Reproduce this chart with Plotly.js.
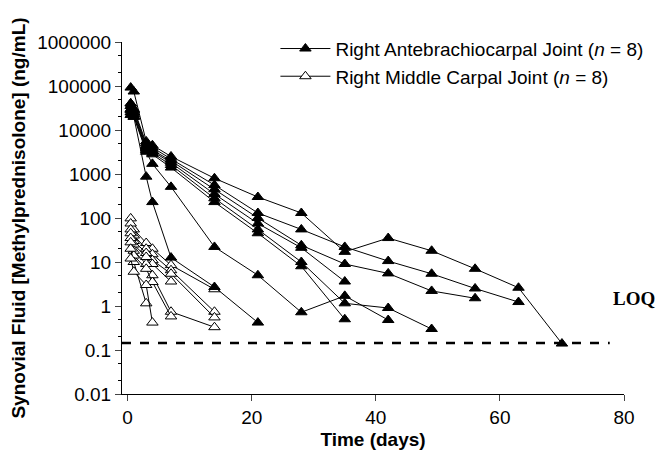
<!DOCTYPE html>
<html><head><meta charset="utf-8">
<script src="https://cdn.plot.ly/plotly-3.0.1.min.js"></script>
<style>html,body{margin:0;padding:0;background:#fff}#chart{width:660px;height:451px}</style>
</head><body><div id="chart"></div><script>
const seriesNames = ["Right Antebrachiocarpal Joint (<i>n</i> = 8)", "Right Middle Carpal Joint (<i>n</i> = 8)"];

// Right antebrachiocarpal joint: one array of days and concentrations per horse
const abcDays = [
  [0.5,1,3,4,7,14,21,28,35,42,49,56,63,70],
  [0.5,1,3,4,7,14,21,28,35,42,49,56,63],
  [0.5,1,3,4,7,14,21,28,35,42,49,56],
  [0.5,1,3,4,7,14,21,28,35],
  [0.5,1,3,4,7,14,21,28,35,42,49],
  [0.5,1,3,4,7,14,21,28,35],
  [0.5,1,3,4,7,14,21,28,35,42],
  [0.5,1,3,4,7,14,21]
];
const abcConc = [
  [92000,75000,5500,4500,2500,800,300,130,17,35,18,7,2.6,0.14],
  [40000,30000,5000,4000,2200,560,130,55,22,10.5,5.4,2.5,1.23],
  [35000,28000,4500,3500,2000,450,100,24,9,5.5,2.2,1.5],
  [30000,25000,4200,3300,1800,350,75,21,3.6],
  [28000,23000,3800,3000,1600,280,55,10,1.15,0.9,0.3],
  [25000,21000,3500,2800,1400,230,45,8,0.5],
  [22000,20000,3200,1700,510,22,5,0.72,1.7,0.48],
  [40000,20000,870,230,12.6,2.7,0.42]
];

// Right middle carpal joint
const mcDays = [
  [0.5,1,3,4,7,14],
  [0.5,1,3,4,7,14],
  [0.5,1,3,4,7,14],
  [0.5,1,3,4,7],
  [0.5,1,3,4,7,14],
  [0.5,1,3,4,7],
  [0.5,1,3],
  [0.5,1,3,4]
];
const mcConc = [
  [98,55,27,20,8.5,2.4],
  [75,40,20,15,6.5,0.74],
  [55,30,16,11,5.4,0.55],
  [45,25,13,9,3.6],
  [35,18,9,5,0.74,0.33],
  [28,14,7,3.5,0.58],
  [20,10,1.15],
  [12,6,3,0.42]
];

const loqValue = 0.145;
const loqDays = [-0.9, 77.7];
const yTickVals = [0.01,0.1,1,10,100,1000,10000,100000,1000000];
const yTickText = ["0.01","0.1","1","10","100","1000","10000","100000","1000000"];
const xTickVals = [0,20,40,60,80];

const traces = [];
mcDays.forEach((d,i)=>{
  traces.push({x:d, y:mcConc[i], type:'scatter', mode:'lines+markers',
    name:seriesNames[1], legendgroup:'mc', showlegend:i===0, legendrank:2,
    line:{color:'black', width:1},
    marker:{symbol:'triangle-up', size:10, color:'white', line:{color:'black', width:1}}});
});
abcDays.forEach((d,i)=>{
  traces.push({x:d, y:abcConc[i], type:'scatter', mode:'lines+markers',
    name:seriesNames[0], legendgroup:'abc', showlegend:i===0, legendrank:1,
    line:{color:'black', width:1},
    marker:{symbol:'triangle-up', size:10, color:'black', line:{color:'black', width:1}}});
});
traces.push({x:loqDays, y:[loqValue,loqValue], type:'scatter', mode:'lines', showlegend:false,
  hoverinfo:'skip', line:{color:'black', width:2.5, dash:'dash'}});

const font = {family:'"Liberation Sans", Arial, sans-serif', color:'black'};
const layout = {
  width:660, height:451,
  margin:{l:122, r:35, t:42, b:57},
  paper_bgcolor:'white', plot_bgcolor:'white',
  font:Object.assign({size:19}, font),
  showlegend:true,
  legend:{x:0.305, y:1.035, xanchor:'left', yanchor:'top', bgcolor:'rgba(0,0,0,0)',
    font:Object.assign({size:19}, font), itemwidth:50, tracegroupgap:0},
  xaxis:{type:'linear', range:[-0.9,80], tickvals:xTickVals, ticks:'outside', ticklen:6,
    showline:true, linecolor:'black', linewidth:1, showgrid:false, zeroline:false,
    tickfont:Object.assign({size:19}, font),
    title:{text:'<b>Time (days)</b>', font:Object.assign({size:19}, font), standoff:5}},
  yaxis:{type:'log', range:[-2,6], tickvals:yTickVals, ticktext:yTickText, ticks:'outside', ticklen:6,
    showline:true, linecolor:'black', linewidth:1, showgrid:false, zeroline:false,
    tickfont:Object.assign({size:19}, font),
    minor:{ticks:'outside', ticklen:3, tickcolor:'black', showgrid:false},
    title:{text:'<b>Synovial Fluid [Methylprednisolone] (ng/mL)</b>', font:Object.assign({size:19}, font), standoff:6}},
  annotations:[{xref:'paper', yref:'paper', x:1.02, y:0.27, xanchor:'center', yanchor:'middle',
    text:'<b>LOQ</b>', showarrow:false, font:{family:'"Liberation Serif", "Times New Roman", serif', size:19, color:'black'}}]
};
Plotly.newPlot('chart', traces, layout, {staticPlot:true, displayModeBar:false});
</script></body></html>
